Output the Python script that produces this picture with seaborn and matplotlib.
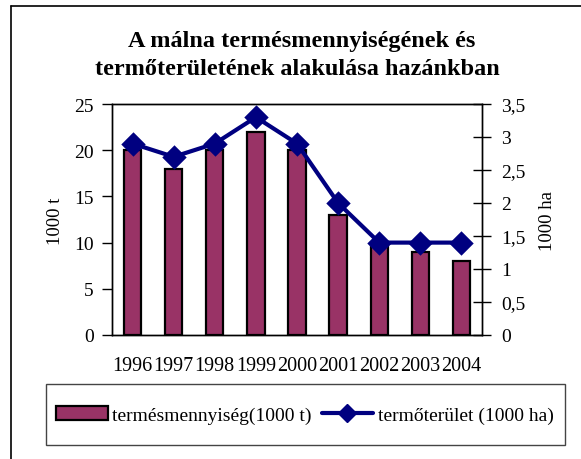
import numpy as np
import pandas as pd
import matplotlib
matplotlib.use("Agg")
import matplotlib.pyplot as plt
import seaborn as sns
from matplotlib.patches import Patch, Rectangle
from matplotlib.lines import Line2D
from matplotlib.ticker import FuncFormatter, MultipleLocator

years = ["1996", "1997", "1998", "1999", "2000", "2001", "2002", "2003", "2004"]
termes = [20, 18, 20, 22, 20, 13, 10, 9, 8]  # 1000 t
terulet = [2.9, 2.7, 2.9, 3.3, 2.9, 2.0, 1.4, 1.4, 1.4]  # 1000 ha

df = pd.DataFrame({"ev": years, "termes": termes, "terulet": terulet})

sns.set_style("white")
plt.rcParams["font.family"] = ["Liberation Serif", "DejaVu Serif"]
for k in ["text.color", "axes.labelcolor", "xtick.color", "ytick.color"]:
    plt.rcParams[k] = "black"

bar_col = "#993366"
line_col = "#000080"

W, H = 581, 460
fig = plt.figure(figsize=(W/100, H/100), dpi=100)
ax = fig.add_axes([112/W, 1-336/H, 370/W, 231/H])

sns.barplot(data=df, x="ev", y="termes", color=bar_col, width=0.42,
            edgecolor="black", linewidth=1.6, saturation=1, ax=ax)
ax.set_ylim(0, 25)
ax.yaxis.set_major_locator(MultipleLocator(5))
ax.set_xlim(-0.5, len(years) - 0.5)
ax.set_xlabel("")
ax.set_ylabel("")

ax2 = ax.twinx()
sns.pointplot(data=df, x="ev", y="terulet", color=line_col, markers="D",
              markersize=10.5, linewidth=3, ax=ax2)
ax2.set_ylim(0, 3.5)
ax2.yaxis.set_major_locator(MultipleLocator(0.5))
ax2.yaxis.set_major_formatter(FuncFormatter(lambda v, p: f"{v:g}".replace(".", ",")))
ax2.set_xlim(-0.5, len(years) - 0.5)
ax2.set_xlabel("")
ax2.set_ylabel("")

# category boundary ticks, Excel style
ax.set_xticks(np.arange(len(years)))
ax.set_xticklabels(years)
ax.set_xticks(np.arange(-0.5, len(years)), minor=True)
ax.tick_params(axis="x", which="major", length=0, labelsize=14.5, pad=15)
ax.tick_params(axis="x", which="minor", length=14, width=1, direction="inout")
ax.tick_params(axis="y", length=7, width=1, direction="out", labelsize=14, pad=6, left=True)
ax2.tick_params(axis="y", length=13, width=1, direction="inout", labelsize=14, pad=7, right=True)

for a in (ax, ax2):
    for s in a.spines.values():
        s.set_visible(True)
        s.set_color("black")
        s.set_linewidth(1)

fig.text(55/W, 1-221/H, "1000 t", rotation=90, ha="center", va="center", fontsize=13.5)
fig.text(548/W, 1-221/H, "1000 ha", rotation=90, ha="center", va="center", fontsize=13.5)

fig.text(302/W, 1-47/H, "A málna termésmennyiségének és",
         ha="center", va="baseline", fontsize=17.5, fontweight="bold")
fig.text(297/W, 1-75/H, "termőterületének alakulása hazánkban",
         ha="center", va="baseline", fontsize=17.5, fontweight="bold")

# legend box
fig.add_artist(Rectangle((46/W, 1-446/H), 519/W, 61/H, transform=fig.transFigure,
                         facecolor="white", edgecolor="#444444", lw=1))
handles = [Patch(facecolor=bar_col, edgecolor="black", linewidth=1.6),
           Line2D([0], [0], color=line_col, lw=3, marker="D", markersize=9)]
leg = fig.legend(handles, ["termésmennyiség(1000 t)", "termőterület (1000 ha)"],
                 loc="center", bbox_to_anchor=(305/W, 1-416/H), ncol=2,
                 fontsize=14, frameon=False,
                 handlelength=2.65, handleheight=0.75, handletextpad=0.25,
                 columnspacing=0.5, borderpad=0, borderaxespad=0)

# outer chart border (left and top edges visible)
fig.add_artist(Line2D([11/W, 11/W], [0, 1-7/H], transform=fig.transFigure, color="black", lw=1.2))
fig.add_artist(Line2D([11/W, 1], [1-7/H, 1-7/H], transform=fig.transFigure, color="black", lw=1.2))

fig.savefig("out.png", dpi=100)
